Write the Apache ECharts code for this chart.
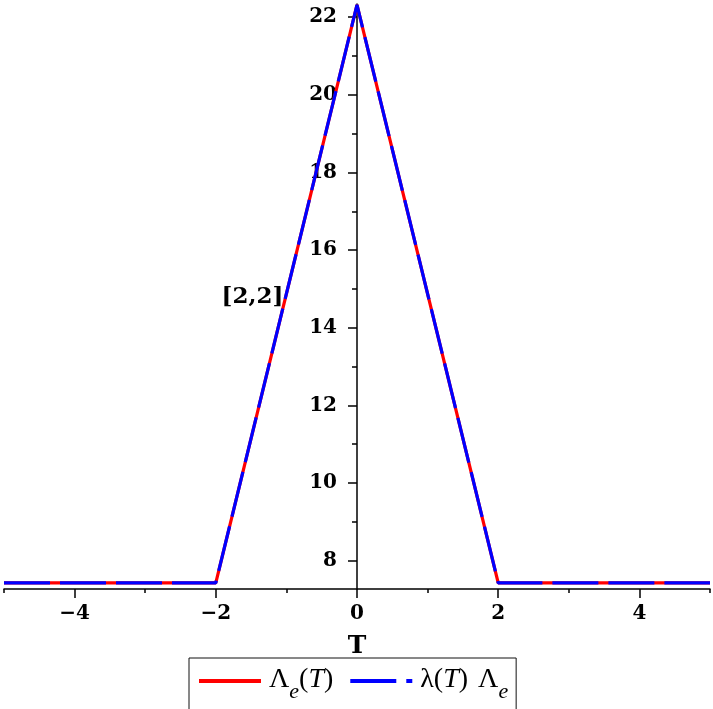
<!DOCTYPE html>
<html>
<head>
<meta charset="utf-8">
<script src="https://cdn.jsdelivr.net/npm/echarts@6/dist/echarts.min.js"></script>
<style>
  html, body { margin: 0; padding: 0; background: #fff; }
  #chart { width: 713px; height: 709px; }
</style>
</head>
<body>
<div id="chart"></div>
<script>
// Piecewise-linear profile over T
const tValues = [-5, -2, 0, 2, 5];
const lambdaE = [7.43, 7.43, 22.32, 7.43, 7.43];
const lambdaTimesLambdaE = [7.43, 7.43, 22.32, 7.43, 7.43];

// Axis ticks
const xMajorTicks = [-4, -2, 0, 2, 4];
const xMinorTicks = [-5, -3, -1, 1, 3, 5];
const yMajorTicks = [8, 10, 12, 14, 16, 18, 20, 22];
const yMinorTicks = [9, 11, 13, 15, 17, 19, 21];

// Annotation
const annotationText = '[2,2]';
const annotationAt = [-1.48, 14.78];

const seriesNames = ['Λe(T)', 'λ(T) Λe'];

const tickFont = {
  fontFamily: 'DejaVu Serif',
  fontWeight: 'bold',
  fontSize: 20,
  color: '#000'
};

const W = 713, H = 709;
const gridLeft = 4, gridRight = 3, gridTop = 4, gridBottom = 120;
const gridWidth = W - gridLeft - gridRight;
const gridHeight = H - gridTop - gridBottom;
const xMin = -5, xMax = 5;
// offset that puts the vertical axis on T = 0
const yAxisShift = -((0 - xMin) / (xMax - xMin)) * gridWidth;

const chart = echarts.init(document.getElementById('chart'), null, { renderer: 'canvas' });

const legendRich = {
  g: { width: 3 },
  sp: { width: 10 },
  r: { fontFamily: 'Liberation Serif', fontSize: 28, color: '#000', verticalAlign: 'top', lineHeight: 30 },
  i: { fontFamily: 'Liberation Serif', fontStyle: 'italic', fontSize: 28, color: '#000', verticalAlign: 'top', lineHeight: 30 },
  s: { fontFamily: 'Liberation Serif', fontStyle: 'italic', fontSize: 22, color: '#000', verticalAlign: 'top', lineHeight: 22, padding: [15, 0, 0, 0] }
};

const axisLineStyle = { color: '#000', width: 1.5 };

chart.setOption({
  animation: false,
  backgroundColor: '#fff',
  grid: {
    left: gridLeft, right: gridRight, top: gridTop, bottom: gridBottom,
    containLabel: false, outerBoundsMode: 'none'
  },
  xAxis: [
    {
      type: 'value',
      min: xMin,
      max: xMax,
      name: 'T',
      nameLocation: 'middle',
      nameGap: 45,
      nameTextStyle: { fontFamily: 'DejaVu Serif', fontWeight: 'bold', fontSize: 25, color: '#000' },
      axisLine: { show: true, onZero: false, lineStyle: axisLineStyle },
      axisTick: { show: true, length: 9, lineStyle: axisLineStyle, customValues: xMajorTicks },
      axisLabel: { ...tickFont, margin: 15, customValues: xMajorTicks,
        formatter: v => (v < 0 ? '\u2212' + Math.abs(v) : String(v)) },
      splitLine: { show: false }
    },
    {
      // minor ticks along the bottom edge
      type: 'value',
      min: xMin,
      max: xMax,
      position: 'top',
      offset: -gridHeight,
      axisLine: { show: false, onZero: false },
      axisTick: { show: true, inside: true, length: 4, lineStyle: axisLineStyle, customValues: xMinorTicks },
      axisLabel: { show: false },
      splitLine: { show: false }
    }
  ],
  yAxis: [
    {
      type: 'value',
      min: 7.27,
      max: 22.34,
      position: 'left',
      offset: yAxisShift,
      axisLine: { show: true, onZero: false, lineStyle: axisLineStyle },
      axisTick: { show: true, length: 9, lineStyle: axisLineStyle, customValues: yMajorTicks },
      axisLabel: { ...tickFont, margin: 20, customValues: yMajorTicks },
      splitLine: { show: false }
    },
    {
      // minor ticks on the vertical axis
      type: 'value',
      min: 7.27,
      max: 22.34,
      position: 'right',
      offset: yAxisShift,
      axisLine: { show: false, onZero: false },
      axisTick: { show: true, inside: true, length: 5, lineStyle: axisLineStyle, customValues: yMinorTicks },
      axisLabel: { show: false },
      splitLine: { show: false }
    }
  ],
  legend: {
    data: seriesNames,
    left: 189,
    top: 658,
    padding: [8, 8, 12, 8],
    itemGap: 15,
    itemWidth: 62,
    itemHeight: 14,
    borderColor: '#111',
    borderWidth: 1,
    itemStyle: { opacity: 0 },
    lineStyle: { width: 4 },
    formatter: name => name === seriesNames[0]
      ? '{g| }{r|Λ}{s|e}{r|(}{i|T}{r|)}'
      : '{g| }{r|λ(}{i|T}{r|)}{sp| }{r|Λ}{s|e}',
    textStyle: { rich: legendRich }
  },
  series: [
    {
      name: seriesNames[0],
      type: 'line',
      data: tValues.map((t, k) => [t, lambdaE[k]]),
      showSymbol: false,
      symbol: 'none',
      lineStyle: { color: '#ff0000', width: 3.2 },
      itemStyle: { color: '#ff0000' },
      z: 2
    },
    {
      name: seriesNames[1],
      type: 'line',
      data: tValues.map((t, k) => [t, lambdaTimesLambdaE[k]]),
      showSymbol: false,
      symbol: 'none',
      lineStyle: { color: '#0000ff', width: 3.2, type: [46, 10] },
      itemStyle: { color: '#0000ff' },
      z: 3
    }
  ]
});

// "[2,2]" label placed at its data position
const p = chart.convertToPixel({ gridIndex: 0 }, annotationAt);
chart.setOption({
  graphic: [{
    type: 'text',
    x: p[0],
    y: p[1],
    z: 10,
    style: {
      text: annotationText,
      fontFamily: 'DejaVu Serif',
      fontWeight: 'bold',
      fontSize: 23,
      fill: '#000',
      align: 'center',
      verticalAlign: 'middle'
    }
  }]
});
</script>
</body>
</html>
